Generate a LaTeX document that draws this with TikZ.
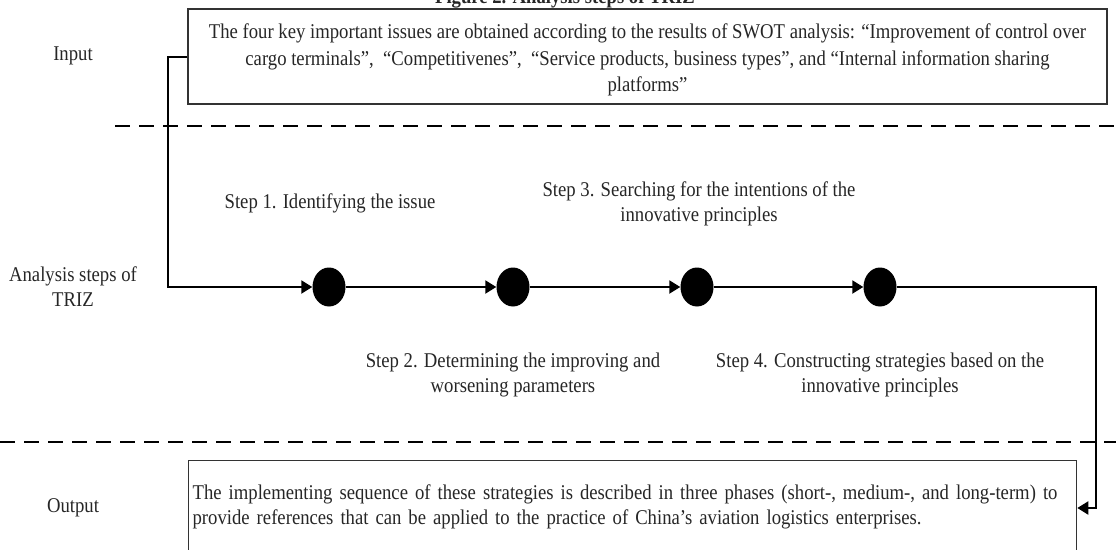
\documentclass[tikz,border=0pt]{standalone}
\usepackage{fontspec}
\setmainfont{Liberation Serif}[FakeStretch=0.89]
\usetikzlibrary{arrows.meta,shapes.geometric}
\begin{document}
\begin{tikzpicture}[x=1pt,y=-1pt,
  txt/.style={font=\fontsize{21}{25}\selectfont, align=center, inner sep=0pt, text=black!85},
  frame/.style={draw=black!80, line width=1.3pt, inner sep=0pt},
  flow/.style={draw=black, line width=2pt, -{Triangle[length=11pt,width=13pt]}},
  dot/.style={ellipse, fill=black, minimum width=33pt, minimum height=39pt, inner sep=0pt},
  sep/.style={draw=black, line width=2pt, dash pattern=on 15pt off 9pt},
]
\useasboundingbox (0,0) rectangle (1116,549);

% caption (runs off the top edge)
\node[txt, font=\fontsize{21}{25}\selectfont\bfseries, anchor=base] (title) at (565,3) {Figure 2. Analysis steps of TRIZ};

% row labels
\node[txt] (lin) at (73,56) {Input};
\node[txt] (lana) at (73,287) {Analysis steps of\\TRIZ};
\node[txt] (lout) at (73,508) {Output};

% input box and its text
\node[frame, minimum width=919pt, minimum height=95pt] (in) at (647.5,56.5) {};
\node[txt, font=\fontsize{21}{26.5}\selectfont] (intext) at (647.5,60)
  {The four key important issues are obtained according to the results of SWOT analysis: “Improvement of control over\\
   cargo terminals”,\ \ “Competitivenes”,\ \ “Service products, business types”, and “Internal information sharing\\
   platforms”};

% section separators
\coordinate (d1a) at (115,126);
\coordinate (d1b) at (1116,126);
\coordinate (d2a) at (0,442);
\coordinate (d2b) at (1116,442);
\draw[sep] (d1a) -- (d1b);
\draw[sep] (d2a) -- (d2b);

% the four steps
\node[dot] (c1) at (329,287) {};
\node[dot] (c2) at (513,287) {};
\node[dot] (c3) at (697,287) {};
\node[dot] (c4) at (880,287) {};

\node[txt] (s1) at (330,203) {Step 1. Identifying the issue};
\node[txt] (s3) at (699,204) {Step 3. Searching for the intentions of the\\innovative principles};
\node[txt] (s2) at (513,375) {Step 2. Determining the improving and\\worsening parameters};
\node[txt] (s4) at (880,375) {Step 4. Constructing strategies based on the\\innovative principles};

% output box
\node[frame, txt, align=left, anchor=north west, minimum width=888pt, minimum height=92pt,
      text width=880pt, inner xsep=4pt] (out) at (188,460)
  {The implementing sequence of these strategies is described in three phases (short-, medium-, and long-term) to\\
   provide references that can be applied to the practice of China’s aviation logistics enterprises.};

% connectors
\coordinate (k1) at (168,56.5);
\coordinate (k2) at (168,287);
\coordinate (k3) at (1096,287);
\coordinate (k4) at (1096,508);
\draw[flow] (in.west) -- (k1) -- (k2) -- (c1);
\draw[flow] (c1) -- (c2);
\draw[flow] (c2) -- (c3);
\draw[flow] (c3) -- (c4);
\draw[flow] (c4) -- (k3) -- (k4) -- (k4 -| out.east);
\end{tikzpicture}
\end{document}
